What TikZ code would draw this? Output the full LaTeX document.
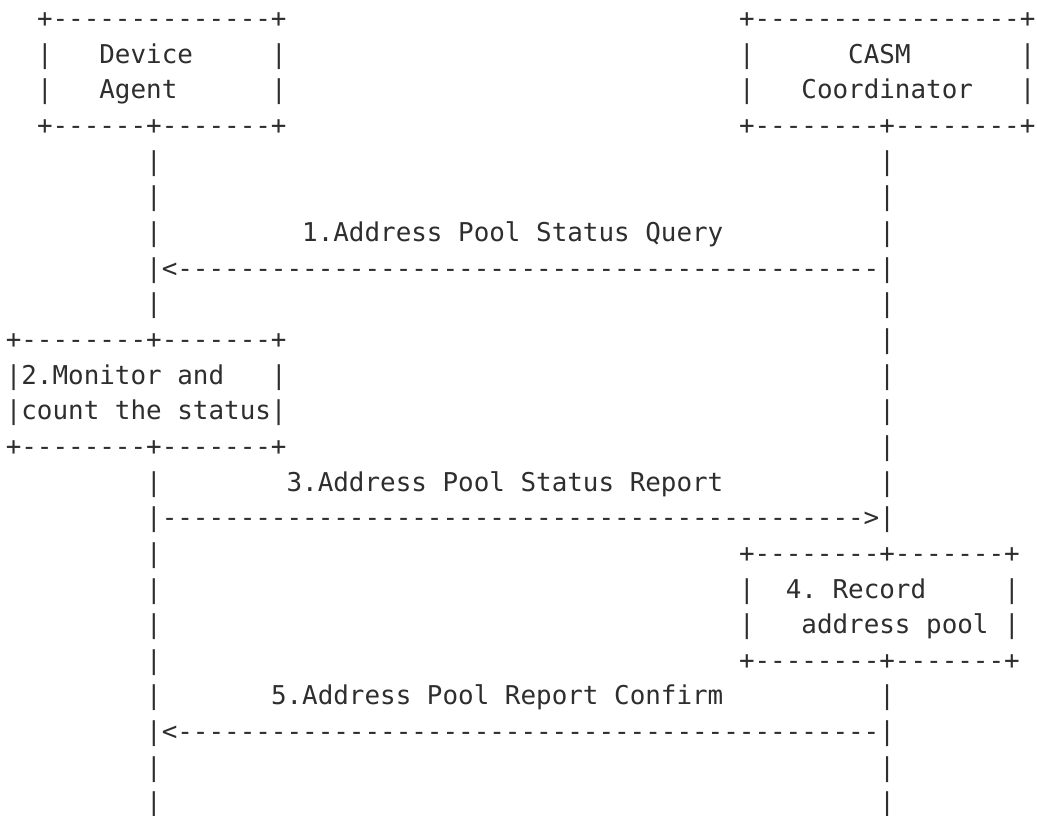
\documentclass[tikz,border=0pt]{standalone}
\usepackage{fontspec}
\setmonofont{DejaVu Sans Mono}
\definecolor{ink}{HTML}{2E2E2E}
\newcommand\frag[4]{\node[txt] (#1) at ({5.8+#3*15.6},{816-27.65-(#2-1)*35.65}) {#4};}
\begin{document}
\begin{tikzpicture}[x=1pt,y=1pt,
  txt/.style={anchor=base west,inner sep=0pt,outer sep=0pt,text=ink,
    font=\ttfamily\fontsize{25.91}{35.65}\selectfont}]
\fill[white] (0,0) rectangle (1037,816);
\useasboundingbox (0,0) rectangle (1037,816);
% row 1
\frag{a1}{1}{2}{+--------------+}
\frag{b1}{1}{47}{+-----------------+}
% row 2
\frag{a2l}{2}{2}{|}
\frag{dev}{2}{6}{Device}
\frag{a2r}{2}{17}{|}
\frag{b2l}{2}{47}{|}
\frag{casm}{2}{54}{CASM}
\frag{b2r}{2}{65}{|}
% row 3
\frag{a3l}{3}{2}{|}
\frag{agent}{3}{6}{Agent}
\frag{a3r}{3}{17}{|}
\frag{b3l}{3}{47}{|}
\frag{coord}{3}{51}{Coordinator}
\frag{b3r}{3}{65}{|}
% row 4
\frag{a4}{4}{2}{+------+-------+}
\frag{b4}{4}{47}{+--------+--------+}
% rows 5,6
\frag{l5}{5}{9}{|}
\frag{r5}{5}{56}{|}
\frag{l6}{6}{9}{|}
\frag{r6}{6}{56}{|}
% row 7
\frag{l7}{7}{9}{|}
\frag{m1}{7}{19}{1.Address~Pool~Status~Query}
\frag{r7}{7}{56}{|}
% row 8
\frag{arr1}{8}{9}{|<----------{}----------{}----------{}----------{}-----|}
% row 9
\frag{l9}{9}{9}{|}
\frag{r9}{9}{56}{|}
% rows 10-13 : box 2
\frag{c10}{10}{0}{+--------+-------+}
\frag{r10}{10}{56}{|}
\frag{c11}{11}{0}{|2.Monitor~and}
\frag{c11r}{11}{17}{|}
\frag{r11}{11}{56}{|}
\frag{c12}{12}{0}{|count~the~status|}
\frag{r12}{12}{56}{|}
\frag{c13}{13}{0}{+--------+-------+}
\frag{r13}{13}{56}{|}
% row 14
\frag{l14}{14}{9}{|}
\frag{m3}{14}{18}{3.Address~Pool~Status~Report}
\frag{r14}{14}{56}{|}
% row 15
\frag{arr3}{15}{9}{|----------{}----------{}----------{}----------{}----->|}
% rows 16-19 : box 4
\frag{l16}{16}{9}{|}
\frag{d16}{16}{47}{+--------+-------+}
\frag{l17}{17}{9}{|}
\frag{d17l}{17}{47}{|}
\frag{rec}{17}{50}{4.~Record}
\frag{d17r}{17}{64}{|}
\frag{l18}{18}{9}{|}
\frag{d18l}{18}{47}{|}
\frag{pool}{18}{51}{address~pool}
\frag{d18r}{18}{64}{|}
\frag{l19}{19}{9}{|}
\frag{d19}{19}{47}{+--------+-------+}
% row 20
\frag{l20}{20}{9}{|}
\frag{m5}{20}{17}{5.Address~Pool~Report~Confirm}
\frag{r20}{20}{56}{|}
% row 21
\frag{arr5}{21}{9}{|<----------{}----------{}----------{}----------{}-----|}
% rows 22,23
\frag{l22}{22}{9}{|}
\frag{r22}{22}{56}{|}
\frag{l23}{23}{9}{|}
\frag{r23}{23}{56}{|}
\end{tikzpicture}
\end{document}
